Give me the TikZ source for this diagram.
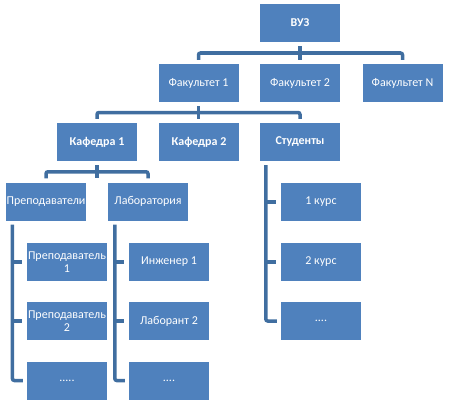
\documentclass[tikz,border=0pt]{standalone}
\usepackage{fontspec}
\setmainfont{Carlito}
\definecolor{orgblue}{RGB}{79, 129, 189}
\definecolor{orgline}{RGB}{64, 110, 160}
\usetikzlibrary{calc}
\tikzset{
  % Filled unit box of the chart.
  unit/.style={
    rectangle, fill=orgblue, draw=none,
    minimum width=80pt, minimum height=38pt,
    inner sep=1pt, align=center,
    font=\fontsize{12}{13}\selectfont,
    text=white,
  },
  unit-bold/.style={unit, font=\fontsize{12}{13}\selectfont\bfseries},
  % Thick connectors, kept a little clear of the boxes.
  link/.style={
    draw=orgline, line width=3.5pt, rounded corners=2pt,
  },
  gap/.style={shorten <=4pt, shorten >=4pt},
}
\begin{document}
\begin{tikzpicture}[x=1pt, y=-1pt]
  \useasboundingbox (0,0) rectangle (449,404);

  % Top levels.
  \node[unit-bold] (vuz)  at (300, 23) {ВУЗ};
  \node[unit] (fak1) at (198.5, 83) {Факультет 1};
  \node[unit] (fak2) at (300, 83)   {Факультет 2};
  \node[unit] (fakN) at (402.5, 83) {Факультет N};

  \node[unit-bold] (kaf1) at (97, 142)  {Кафедра 1};
  \node[unit-bold] (kaf2) at (199, 142) {Кафедра 2};
  \node[unit-bold] (stud) at (300, 142) {Студенты};

  \node[unit] (prep) at (46, 201.5)  {Преподаватели};
  \node[unit] (lab)  at (148, 201.5) {Лаборатория};

  % Leaf columns.
  \node[unit] (prep1) at (67, 262)   {Преподаватель\\1};
  \node[unit] (prep2) at (67, 321)   {Преподаватель\\2};
  \node[unit] (prep3) at (67, 380.5) {.....};

  \node[unit] (ing1) at (169, 262)   {Инженер 1};
  \node[unit] (lab2) at (169, 321)   {Лаборант 2};
  \node[unit] (lab3) at (169, 380.5) {....};

  \node[unit] (kurs1) at (321, 202) {1 курс};
  \node[unit] (kurs2) at (321, 262) {2 курс};
  \node[unit] (kurs3) at (321, 321) {....};

  % Tree connectors.
  \draw[link, gap] (fak1.north) |- ($(vuz.south)!0.5!(fak2.north)$) -| (fakN.north);
  \draw[link, gap] (vuz.south) -- (fak2.north);

  \draw[link, gap] (kaf1.north) |- ($(fak1.south)!0.5!(kaf2.north)$) -| (stud.north);
  \draw[link, gap] (fak1.south) -- (fak1.south |- kaf2.north);

  \draw[link, gap] (prep.north) |- ($(kaf1.south)!0.5!(kaf1.south |- prep.north)$) -| (lab.north);
  \draw[link, gap] (kaf1.south) -- (kaf1.south |- prep.north);

  % Side bars.
  \coordinate (prepbar) at ([xshift=7pt]prep.south west);
  \coordinate (labbar)  at ([xshift=7pt]lab.south west);
  \coordinate (studbar) at ([xshift=6pt]stud.south west);

  \draw[link, gap] (prepbar) |- (prep3.west);
  \draw[link, shorten >=5pt] (prepbar |- prep1.west) -- (prep1.west);
  \draw[link, shorten >=5pt] (prepbar |- prep2.west) -- (prep2.west);

  \draw[link, gap] (labbar) |- (lab3.west);
  \draw[link, shorten >=5pt] (labbar |- ing1.west) -- (ing1.west);
  \draw[link, shorten >=5pt] (labbar |- lab2.west) -- (lab2.west);

  \draw[link, gap] (studbar) |- (kurs3.west);
  \draw[link, shorten >=5pt] (studbar |- kurs1.west) -- (kurs1.west);
  \draw[link, shorten >=5pt] (studbar |- kurs2.west) -- (kurs2.west);
\end{tikzpicture}
\end{document}
